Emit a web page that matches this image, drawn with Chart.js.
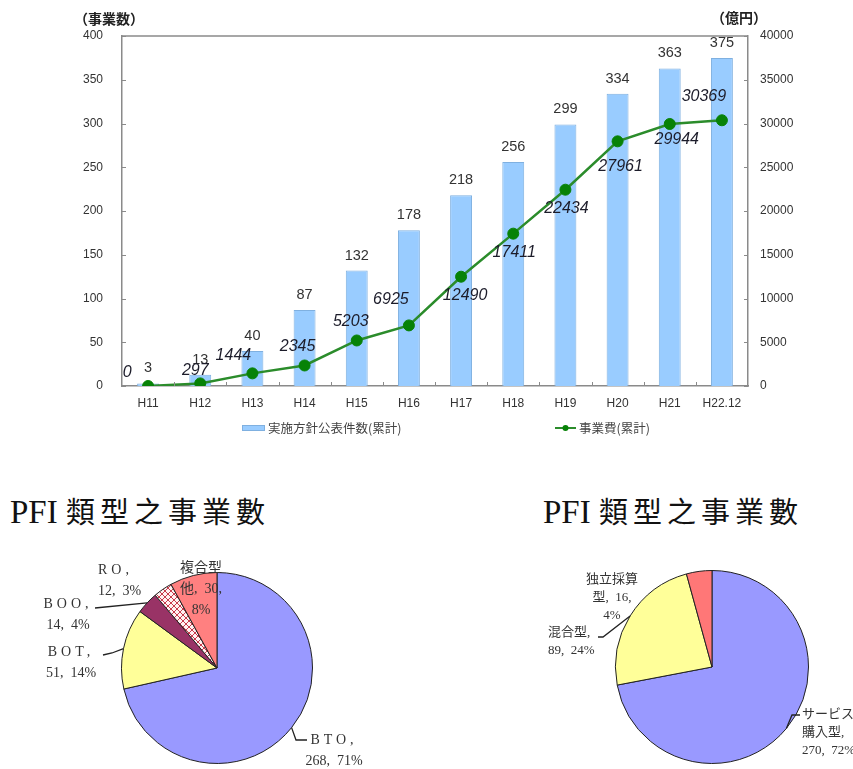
<!DOCTYPE html>
<html><head><meta charset="utf-8">
<script src="https://cdn.jsdelivr.net/npm/chart.js@4.4.1/dist/chart.umd.min.js"></script>
<style>
html,body{margin:0;padding:0;background:#fff;}
#wrap{position:relative;width:853px;height:769px;overflow:hidden;background:#fff;}
canvas{position:absolute;}
.ttl{position:absolute;color:#111;white-space:nowrap;line-height:30px;}
.ttl .lat{font-family:"Liberation Serif",serif;font-size:33px;letter-spacing:0;}
.ttl .cjk{font-family:"Noto Sans CJK TC",sans-serif;font-size:29px;letter-spacing:5px;}
</style></head><body>
<div id="wrap">
  <canvas id="top" width="853" height="445" style="left:0;top:0"></canvas>
  <div class="ttl" id="t1" style="left:10px;top:495px"></div>
  <div class="ttl" id="t2" style="left:543px;top:495px"></div>
  <canvas id="pieL" width="430" height="229" style="left:0;top:540px"></canvas>
  <canvas id="pieR" width="423" height="229" style="left:430px;top:540px"></canvas>
</div>
<script>
// ---------- data ----------
const categories = ['H11','H12','H13','H14','H15','H16','H17','H18','H19','H20','H21','H22.12'];
const projectCounts = [3,13,40,87,132,178,218,256,299,334,363,375];
const projectCosts = [0,297,1444,2345,5203,6925,12490,17411,22434,27961,29944,30369];
const countTickValues = [0,50,100,150,200,250,300,350,400];
const costTickValues = [0,5000,10000,15000,20000,25000,30000,35000,40000];
const countSeriesName = '実施方針公表件数(累計)';
const costSeriesName = '事業費(累計)';
const countAxisTitle = '（事業数）';
const costAxisTitle = '（億円）';

const pieTitleLatin = 'PFI';
const pieTitleCJK = '類型之事業數';
const pfiTypeNames = ['BTO','BOT','BOO','RO','複合型他'];
const pfiTypeCounts = [268,51,14,12,30];
const pfiTypeShares = [71,14,4,3,8];
const pfiSchemeNames = ['サービス購入型','混合型','独立採算型'];
const pfiSchemeCounts = [270,89,16];
const pfiSchemeShares = [72,24,4];

// ---------- styles ----------
const SANS = '"Liberation Sans", Arial, "Noto Sans CJK JP", sans-serif';
const CJK = '"Noto Sans CJK JP", sans-serif';
const SERIF = '"Liberation Serif", "Noto Sans CJK JP", serif';
const AXIS = '#8a8a8a';
const BAR_FILL = '#99ccff', BAR_EDGE = '#7fb0e0';
const LINE_COLOR = '#2b8c2b', POINT_COLOR = '#078207';
const lineLabelOffsets = [[-21,-13],[-5,-13],[-19,-18],[-7,-19],[-6,-19],[-18,-26],[4,19],[1,19],[1,19],[3,25],[7,16],[-18,-24]];

['t1','t2'].forEach(id => {
  const el = document.getElementById(id);
  const a = document.createElement('span'); a.className = 'lat'; a.textContent = pieTitleLatin + ' ';
  const b = document.createElement('span'); b.className = 'cjk'; b.textContent = pieTitleCJK;
  el.appendChild(a); el.appendChild(b);
});

// ---------- top chart ----------
const topDeco = {
  id: 'topDeco',
  afterDraw(chart) {
    const ctx = chart.ctx, a = chart.chartArea;
    const yL = chart.scales.y, yR = chart.scales.y2, x = chart.scales.x;
    ctx.save();
    ctx.strokeStyle = AXIS; ctx.lineWidth = 1.5;
    ctx.beginPath(); ctx.moveTo(a.left, a.top); ctx.lineTo(a.right, a.top); ctx.stroke();
    ctx.lineWidth = 1;
    ctx.beginPath();
    yL.ticks.forEach(t => { const py = Math.round(yL.getPixelForValue(t.value)) + 0.5; ctx.moveTo(a.left, py); ctx.lineTo(a.left + 4, py); });
    yR.ticks.forEach(t => { const py = Math.round(yR.getPixelForValue(t.value)) + 0.5; ctx.moveTo(a.right, py); ctx.lineTo(a.right - 4, py); });
    for (let i = 0; i < categories.length - 1; i++) {
      const px = Math.round((x.getPixelForValue(i) + x.getPixelForValue(i + 1)) / 2) + 0.5;
      ctx.moveTo(px, a.bottom); ctx.lineTo(px, a.bottom - 4);
    }
    ctx.stroke();

    const barMeta = chart.getDatasetMeta(1);
    ctx.fillStyle = '#333'; ctx.textAlign = 'center'; ctx.textBaseline = 'middle';
    ctx.font = '14.5px ' + SANS;
    barMeta.data.forEach((b, i) => ctx.fillText(String(chart.data.datasets[1].data[i]), b.x, b.y - 15));

    const lineMeta = chart.getDatasetMeta(0);
    ctx.fillStyle = '#1c1c2a'; ctx.font = 'italic 16px ' + SANS;
    lineMeta.data.forEach((p, i) => {
      const o = lineLabelOffsets[i];
      ctx.fillText(String(chart.data.datasets[0].data[i]), p.x + o[0], p.y + o[1]);
    });

    ctx.fillStyle = '#222'; ctx.font = 'bold 14px ' + CJK; ctx.textAlign = 'left';
    ctx.fillText(countAxisTitle, a.left - 48, a.top - 17);
    ctx.fillText(costAxisTitle, a.right - 37, a.top - 18);

    const ly = a.bottom + 42;
    const dsBar = chart.data.datasets[1], dsLine = chart.data.datasets[0];
    ctx.fillStyle = dsBar.backgroundColor; ctx.strokeStyle = dsBar.borderColor; ctx.lineWidth = 1;
    ctx.fillRect(242, ly - 3, 23, 6); ctx.strokeRect(242.5, ly - 2.5, 22, 5);
    ctx.fillStyle = '#444'; ctx.font = '12.5px ' + CJK; ctx.textAlign = 'left';
    ctx.fillText(dsBar.label, 268, ly);
    ctx.strokeStyle = dsLine.borderColor; ctx.lineWidth = 2;
    ctx.beginPath(); ctx.moveTo(555, ly); ctx.lineTo(576, ly); ctx.stroke();
    ctx.fillStyle = dsLine.pointBackgroundColor;
    ctx.beginPath(); ctx.arc(565.5, ly, 3, 0, Math.PI * 2); ctx.fill();
    ctx.fillStyle = '#444';
    ctx.fillText(dsLine.label, 579, ly);
    ctx.restore();
  }
};

const noGrid = { display: false, drawTicks: false };
const axisBorder = { display: true, color: AXIS, width: 1.5 };
const tickFont = { family: SANS, size: 12 };
const plainNumber = v => String(v);

new Chart(document.getElementById('top'), {
  type: 'bar',
  data: {
    labels: categories,
    datasets: [
      { type: 'line', label: costSeriesName, data: projectCosts, yAxisID: 'y2',
        borderColor: LINE_COLOR, borderWidth: 2.5, tension: 0,
        pointRadius: 5.5, pointBackgroundColor: POINT_COLOR, pointBorderColor: POINT_COLOR, pointBorderWidth: 1,
        order: 1 },
      { type: 'bar', label: countSeriesName, data: projectCounts, yAxisID: 'y',
        backgroundColor: BAR_FILL, borderColor: BAR_EDGE, borderWidth: 1,
        barPercentage: 0.42, categoryPercentage: 1, order: 2 }
    ]
  },
  options: {
    responsive: false, animation: false, events: [],
    layout: { padding: { top: 36, left: 0, right: 0, bottom: 29 } },
    plugins: { legend: { display: false }, tooltip: { enabled: false } },
    scales: {
      x: { offset: true, grid: noGrid, border: axisBorder,
           ticks: { padding: 10, font: tickFont, color: '#333', maxRotation: 0, autoSkip: false },
           afterFit(s) { s.height = 30; } },
      y: { position: 'left', min: 0, max: 400, grid: noGrid, border: axisBorder,
           ticks: { padding: 19, font: tickFont, color: '#333', callback: plainNumber },
           afterBuildTicks(s) { s.ticks = countTickValues.map(v => ({ value: v })); },
           afterFit(s) { s.width = 122; } },
      y2: { position: 'right', min: 0, max: 40000, grid: noGrid, border: axisBorder,
            ticks: { padding: 12, font: tickFont, color: '#333', callback: plainNumber },
            afterBuildTicks(s) { s.ticks = costTickValues.map(v => ({ value: v })); },
            afterFit(s) { s.width = 105; } }
    }
  },
  plugins: [topDeco]
});

// ---------- pies ----------
function hatchPattern() {
  const c = document.createElement('canvas'); c.width = 6; c.height = 6;
  const g = c.getContext('2d');
  g.fillStyle = '#fff2f2'; g.fillRect(0, 0, 6, 6);
  g.strokeStyle = '#c83c4c'; g.lineWidth = 1;
  g.beginPath(); g.moveTo(0, 0); g.lineTo(6, 6); g.moveTo(6, 0); g.lineTo(0, 6); g.stroke();
  return g.createPattern(c, 'repeat');
}

function twoLine(name, count, share) { return [name + ',', count + ',  ' + share + '%']; }
function splitNameCount(name, k, count, share) { return [name.slice(0, k), name.slice(k) + ',  ' + count + ',', share + '%']; }
function splitName(name, k, count, share) { return [name.slice(0, k), name.slice(k) + ',', count + ',  ' + share + '%']; }

const leftSpecs = [
  { lines: twoLine(pfiTypeNames[0], pfiTypeCounts[0], pfiTypeShares[0]), align: 'center', dx: 117, dy: 72, spaced: true, leader: [[79, 72], [90, 72]] },
  { lines: twoLine(pfiTypeNames[1], pfiTypeCounts[1], pfiTypeShares[1]), align: 'center', dx: -146, dy: -16, spaced: true, leader: [[-105, -15], [-114, -13]] },
  { lines: twoLine(pfiTypeNames[2], pfiTypeCounts[2], pfiTypeShares[2]), align: 'center', dx: -149, dy: -64, spaced: true, leader: [[-122, -60]] },
  { lines: twoLine(pfiTypeNames[3], pfiTypeCounts[3], pfiTypeShares[3]), align: 'left', dx: -119, dy: -98, spaced: true },
  { lines: splitNameCount(pfiTypeNames[4], 3, pfiTypeCounts[4], pfiTypeShares[4]), align: 'center', dx: -16, dy: -100 }
];
const rightSpecs = [
  { lines: splitName(pfiSchemeNames[0], 4, pfiSchemeCounts[0], pfiSchemeShares[0]), align: 'left', dx: 90, dy: 48, leader: [[80, 48], [88, 48]] },
  { lines: twoLine(pfiSchemeNames[1], pfiSchemeCounts[1], pfiSchemeShares[1]), align: 'left', dx: -164, dy: -34, leader: [[-109, -30], [-114, -30]] },
  { lines: splitNameCount(pfiSchemeNames[2], 4, pfiSchemeCounts[2], pfiSchemeShares[2]), align: 'center', dx: -100, dy: -87 }
];

function pieLabels(specs, fontSize, lineH) {
  return {
    id: 'pieLabels',
    afterDraw(chart) {
      const ctx = chart.ctx;
      const meta = chart.getDatasetMeta(0);
      ctx.save();
      meta.data.forEach((arc, i) => {
        const s = specs[i]; if (!s) return;
        const p = arc.getProps(['x', 'y', 'startAngle', 'endAngle', 'outerRadius'], true);
        if (s.leader) {
          const mid = (p.startAngle + p.endAngle) / 2;
          ctx.beginPath();
          ctx.moveTo(p.x + Math.cos(mid) * p.outerRadius, p.y + Math.sin(mid) * p.outerRadius);
          s.leader.forEach(([dx, dy]) => ctx.lineTo(p.x + dx, p.y + dy));
          ctx.strokeStyle = '#222'; ctx.lineWidth = 1.3; ctx.stroke();
        }
        ctx.fillStyle = '#333'; ctx.textAlign = s.align; ctx.textBaseline = 'middle';
        ctx.font = fontSize + 'px ' + SERIF;
        s.lines.forEach((t, j) => {
          ctx.letterSpacing = (s.spaced && j === 0) ? '4px' : '0px';
          ctx.fillText(t, p.x + s.dx, p.y + s.dy + j * lineH);
        });
      });
      ctx.restore();
    }
  };
}

new Chart(document.getElementById('pieL'), {
  type: 'pie',
  data: { labels: pfiTypeNames, datasets: [{ data: pfiTypeCounts,
    backgroundColor: ['#9999ff', '#ffff99', '#993366', hatchPattern(), '#ff8080'],
    borderColor: '#222', borderWidth: 1 }] },
  options: { responsive: false, animation: false, events: [],
    layout: { padding: { left: 121, right: 117, top: 32, bottom: 5 } },
    plugins: { legend: { display: false }, tooltip: { enabled: false } } },
  plugins: [pieLabels(leftSpecs, 14, 21)]
});

new Chart(document.getElementById('pieR'), {
  type: 'pie',
  data: { labels: pfiSchemeNames, datasets: [{ data: pfiSchemeCounts,
    backgroundColor: ['#9999ff', '#ffff99', '#ff7777'],
    borderColor: '#222', borderWidth: 1 }] },
  options: { responsive: false, animation: false, events: [],
    layout: { padding: { left: 185, right: 44, top: 30, bottom: 5 } },
    plugins: { legend: { display: false }, tooltip: { enabled: false } } },
  plugins: [pieLabels(rightSpecs, 13, 18)]
});
</script>
</body></html>
